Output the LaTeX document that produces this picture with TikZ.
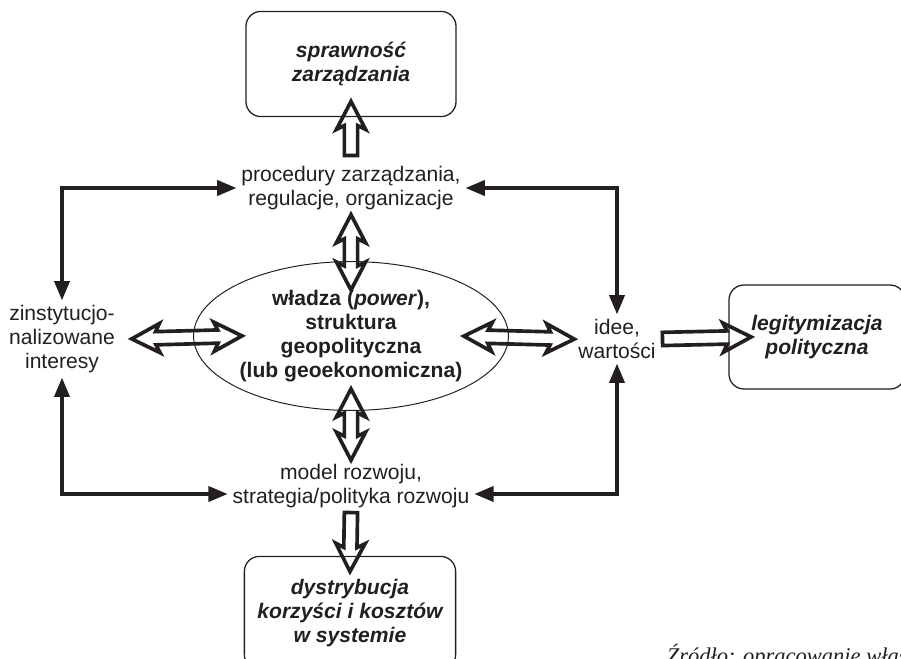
\documentclass[tikz,border=0pt]{standalone}
\usepackage{fontspec}
\setmainfont{Liberation Sans}
\newfontfamily\srcfont{Liberation Serif}
\usepackage{tikz, xcolor}
\usetikzlibrary{arrows.meta, calc, shapes.geometric, shapes.arrows}
\definecolor{ink}{HTML}{231F20}
\newcommand{\blockarr}[3]{% hollow block arrow from #2 to #3
  \path let \p1 = (#2), \p2 = (#3),
    \n1 = {veclen(\x2-\x1,\y2-\y1)}, \n2 = {atan2(\y2-\y1,\x2-\x1)}
    in node [#1, minimum height=\n1, rotate=\n2] at (\p1) {};
  }
\newcommand{\elbow}[2]{% thin black two way link with a corner
  \draw [link] (#1) -| (#2);
  }

\begin{document}
\begin{tikzpicture}[
  x=0.025cm, y=-0.025cm,
  every node/.style={text=ink, font=\fontsize{15}{17}\selectfont},
  outcome/.style={
    % The shape:
    rectangle, rounded corners=0.375cm,
    % The border:
    draw=ink, line width=0.9pt,
    % Font
    font=\fontsize{15}{17}\selectfont\bfseries\itshape, align=center
  },
  core/.style={
    ellipse, draw=ink, line width=0.7pt, inner sep=0pt,
    minimum width=7.55cm, minimum height=3.72cm,
    font=\fontsize{15}{17}\selectfont\bfseries, align=center
  },
  factor/.style={align=center},
  link/.style={<->, >={Triangle[length=0.48cm, width=0.38cm]}, draw=ink, line width=2.2pt},
  sarrow/.style={
    single arrow, anchor=tail, draw=ink, line width=2.6pt, inner sep=0pt, inner ysep=3.4pt,
    single arrow head extend=0.2cm, single arrow tip angle=55, single arrow head indent=0.1cm
  },
  darrow/.style={
    double arrow, anchor=tip 2, draw=ink, line width=2.6pt, inner sep=0pt, inner ysep=3.4pt,
    double arrow head extend=0.2cm, double arrow tip angle=55, double arrow head indent=0.1cm
  },
  ]
  \useasboundingbox (0,0) rectangle (901,658);
  \clip (0,0) rectangle (901,658);

  % outcome boxes and the central ellipse
  \node (spraw) [outcome, minimum width=5.25cm, minimum height=2.63cm] at (351,64) {sprawność\\zarządzania};
  \node (pow) [core] at (351,336) {władza (\textit{power}),\\struktura\\geopolityczna\\(lub geoekonomiczna)};
  \node (dyst) [outcome, minimum width=5.28cm, minimum height=2.83cm] at (350,613) {dystrybucja\\korzyści i kosztów\\w systemie};
  \node (legit) [outcome, minimum width=4.4cm, minimum height=2.6cm] at (817,337) {legitymizacja\\polityczna};

  % factors round the ellipse
  \node (proc) [factor] at (351,188) {procedury zarządzania,\\regulacje, organizacje};
  \node (model) [factor] at (351,486) {model rozwoju,\\strategia/polityka rozwoju};
  \node (inter) [factor] at (62,339) {zinstytucjo-\\nalizowane\\interesy};
  \node (idee) [factor] at (617,339) {idee,\\wartości};

  % thin links with corners
  \elbow{proc.west}{inter.north}
  \elbow{proc.east}{idee.north}
  \elbow{$(model.west)+(0,8)$}{inter.south}
  \elbow{$(model.east)+(0,8)$}{idee.south}

  % block arrows
  \blockarr{sarrow}{$(proc.north)+(0,-4)$}{$(spraw.south)+(0,-14)$}
  \blockarr{darrow}{$(proc.south)+(0,-4)$}{$(pow.north)+(0,25)$}
  \blockarr{darrow}{$(pow.south)+(0,-26)$}{$(model.north)+(0,-3)$}
  \blockarr{sarrow}{$(model.south)+(0,-2)$}{$(dyst.north)+(0,14)$}
  \blockarr{darrow}{$(inter.east)+(8,0)$}{$(pow.west)+(45,0)$}
  \blockarr{darrow}{$(pow.east)+(-49,0)$}{$(idee.west)+(-3,0)$}
  \blockarr{sarrow}{idee.east}{$(legit.west)+(21,0)$}

  \node (src) [anchor=base west, font=\fontsize{16}{18}\selectfont\srcfont\itshape] at (662,663) {Źródło: opracowanie własne};
\end{tikzpicture}
\end{document}
